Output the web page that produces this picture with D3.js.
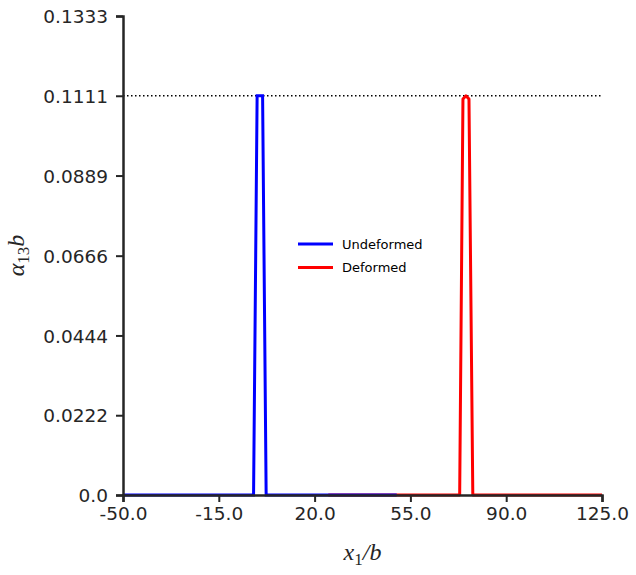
<!DOCTYPE html>
<html>
<head>
<meta charset="utf-8">
<script src="https://cdn.jsdelivr.net/npm/d3@7"></script>
<style>
  body { margin: 0; background: #fff; }
  svg { display: block; }
</style>
</head>
<body>
<svg id="chart"></svg>
<script>
// data
const undeformedX = [-50, -2.3, -1.0, 1.0, 2.3, 50];
const undeformedY = [0, 0, 0.1111, 0.1111, 0, 0];
const deformedX = [25, 73.0, 74.2, 75.3, 76.4, 77.8, 125];
const deformedY = [0, 0, 0.1102, 0.1111, 0.1102, 0, 0];
const peakLevel = 0.1111;

const xTicks = [-50, -15, 20, 55, 90, 125];
const xTickLabels = ["-50.0", "-15.0", "20.0", "55.0", "90.0", "125.0"];
const yTicks = [0, 0.0222, 0.0444, 0.0666, 0.0889, 0.1111, 0.1333];
const yTickLabels = ["0.0", "0.0222", "0.0444", "0.0666", "0.0889", "0.1111", "0.1333"];

const width = 636;
const height = 575;
const margin = { top: 16, right: 34, bottom: 80, left: 123 };
const ink = "#262626";

const svg = d3.select("#chart").attr("width", width).attr("height", height);

const x = d3.scaleLinear()
  .domain([-50, 125])
  .range([margin.left, width - margin.right]);

const y = d3.scaleLinear()
  .domain([0, 0.1333])
  .range([height - margin.bottom, margin.top]);

const line = d3.line()
  .x((d) => x(d[0]))
  .y((d) => y(d[1]));

// reference level
svg.append("path")
  .attr("d", line([[-50, peakLevel], [125, peakLevel]]))
  .attr("fill", "none")
  .attr("stroke", "#000")
  .attr("stroke-width", 1.5)
  .attr("stroke-dasharray", "1.5,2.5");

const series = [
  { name: "Deformed", color: "#ff0000", xs: deformedX, ys: deformedY, join: "round" },
  { name: "Undeformed", color: "#0000ff", xs: undeformedX, ys: undeformedY, join: "miter" }
];

series.forEach((s) => {
  svg.append("path")
    .attr("d", line(s.xs.map((v, i) => [v, s.ys[i]])))
    .attr("fill", "none")
    .attr("stroke", s.color)
    .attr("stroke-width", 3)
    .attr("stroke-linejoin", s.join);
});

// axes
const xAxis = d3.axisBottom(x)
  .tickValues(xTicks)
  .tickFormat((d, i) => xTickLabels[i])
  .tickSize(7)
  .tickPadding(5);

const yAxis = d3.axisLeft(y)
  .tickValues(yTicks)
  .tickFormat((d, i) => yTickLabels[i])
  .tickSize(7)
  .tickPadding(8);

const gx = svg.append("g")
  .attr("transform", `translate(0,${height - margin.bottom})`)
  .call(xAxis);

const gy = svg.append("g")
  .attr("transform", `translate(${margin.left},0)`)
  .call(yAxis);

[gx, gy].forEach((g) => {
  g.select(".domain").attr("stroke", ink).attr("stroke-width", 2.5);
  g.selectAll(".tick line").attr("stroke", ink).attr("stroke-width", 2);
  g.selectAll(".tick text")
    .attr("fill", ink)
    .style("font-family", "DejaVu Sans")
    .style("font-size", "18.5px");
});
gy.selectAll(".tick text").attr("dy", "0.36em");

// axis labels
svg.append("text")
  .attr("x", (margin.left + width - margin.right) / 2)
  .attr("y", 560)
  .attr("text-anchor", "middle")
  .style("font-family", "Liberation Serif")
  .style("font-size", "24px")
  .style("font-style", "italic")
  .attr("fill", ink)
  .call((t) => {
    t.append("tspan").text("x");
    t.append("tspan").attr("dy", 5).attr("font-style", "normal").style("font-size", "17px").text("1");
    t.append("tspan").attr("dy", -5).text("/b");
  });

svg.append("text")
  .attr("transform", `translate(24,${(margin.top + height - margin.bottom) / 2}) rotate(-90)`)
  .attr("text-anchor", "middle")
  .style("font-family", "Liberation Serif")
  .style("font-size", "24px")
  .style("font-style", "italic")
  .attr("fill", ink)
  .call((t) => {
    t.append("tspan").text("α");
    t.append("tspan").attr("dy", 5).style("font-style", "normal").style("font-size", "17px").text("13");
    t.append("tspan").attr("dy", -5).text("b");
  });

// legend
const legend = svg.append("g").attr("transform", "translate(298,244)");
["Undeformed", "Deformed"].forEach((name, i) => {
  const s = series.find((d) => d.name === name);
  const g = legend.append("g").attr("transform", `translate(0,${i * 23.5})`);
  g.append("line")
    .attr("x1", 0).attr("x2", 35)
    .attr("stroke", s.color)
    .attr("stroke-width", 3);
  g.append("text")
    .attr("x", 44)
    .attr("dy", "0.35em")
    .style("font-family", "DejaVu Sans")
    .style("font-size", "13px")
    .attr("fill", "#000")
    .text(name);
});
</script>
</body>
</html>
